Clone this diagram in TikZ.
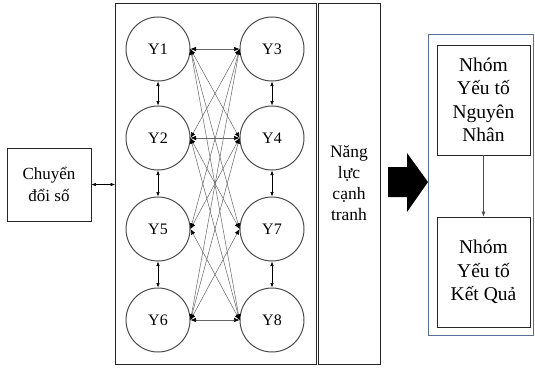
\documentclass[tikz,border=0pt]{standalone}
\usepackage{fontspec}
\setmainfont{Liberation Serif}
\usetikzlibrary{arrows.meta}
\begin{document}
\begin{tikzpicture}[x=1pt,y=-1pt,
  circ/.style={circle,draw=black!70,line width=1pt,minimum size=64pt,inner sep=0pt,font=\fontsize{16}{19}\selectfont},
  plainbox/.style={draw=black!85,line width=0.9pt,inner sep=0pt,align=center},
  dbl/.style={{Latex[length=5.5pt,width=4.5pt,color=black]}-{Latex[length=5.5pt,width=4.5pt,color=black]},draw=black!60,line width=0.5pt},
  vdbl/.style={{Latex[length=4.5pt,width=3.5pt]}-{Latex[length=4.5pt,width=3.5pt]},draw=black,line width=0.6pt},
  sgl/.style={-{Latex[length=5pt,width=4pt]},draw=black!70,line width=0.5pt}]
\useasboundingbox (0,0) rectangle (535,369);
\fill[white] (0,0) rectangle (535,369);

% boxes
\node[plainbox,minimum width=201pt,minimum height=361pt] (main) at (216,183.5) {};
\node[plainbox,minimum width=62pt,minimum height=361pt,font=\fontsize{17.5}{21}\selectfont] (nang) at (349,183.5) {Năng\\lực\\cạnh\\tranh};
\node[plainbox,minimum width=84pt,minimum height=73pt,font=\fontsize{17}{22}\selectfont] (cds) at (49,184.5) {Chuyển\\đổi số};

% circles
\node[circ] (y1) at (158,49) {Y1};
\node[circ] (y2) at (158,138) {Y2};
\node[circ] (y5) at (158,229) {Y5};
\node[circ] (y6) at (158,320) {Y6};
\node[circ] (y3) at (272,49) {Y3};
\node[circ] (y4) at (272,138) {Y4};
\node[circ] (y7) at (272,229) {Y7};
\node[circ] (y8) at (272,320) {Y8};

% vertical links
\draw[vdbl] (y1.south) -- (y2.north);
\draw[vdbl] (y2.south) -- (y5.north);
\draw[vdbl] (y5.south) -- (y6.north);
\draw[vdbl] (y3.south) -- (y4.north);
\draw[vdbl] (y4.south) -- (y7.north);
\draw[vdbl] (y7.south) -- (y8.north);

% cross links
\foreach \a/\b in {y1/y3,y1/y4,y1/y7,y1/y8,
                   y2/y3,y2/y4,y2/y7,y2/y8,
                   y5/y3,y5/y4,y5/y8,
                   y6/y3,y6/y4,y6/y7,y6/y8}{
  \draw[dbl] (\a.east) -- (\b.west);
}

% link from Chuyen doi so
\draw[vdbl] (cds.east) -- (main.west |- cds.east);

% big arrow
\fill[black] (388,167) -- (407,167) -- (407,153) -- (428,182) -- (407,212) -- (407,197) -- (388,197) -- cycle;

% right group
\node[draw={rgb,255:red,90;green,110;blue,150},line width=0.8pt,minimum width=105pt,minimum height=301pt,inner sep=0pt] (grp) at (480.5,184.5) {};
\node[plainbox,minimum width=93pt,minimum height=110pt,font=\fontsize{19.5}{23.5}\selectfont] (nn) at (483.5,100) {Nhóm\\Yếu tố\\Nguyên\\Nhân};
\node[plainbox,minimum width=93pt,minimum height=110pt,font=\fontsize{19.5}{23.5}\selectfont] (kq) at (483.5,272) {Nhóm\\Yếu tố\\Kết Quả};
\draw[sgl] (nn.south) -- (kq.north);
\end{tikzpicture}
\end{document}
